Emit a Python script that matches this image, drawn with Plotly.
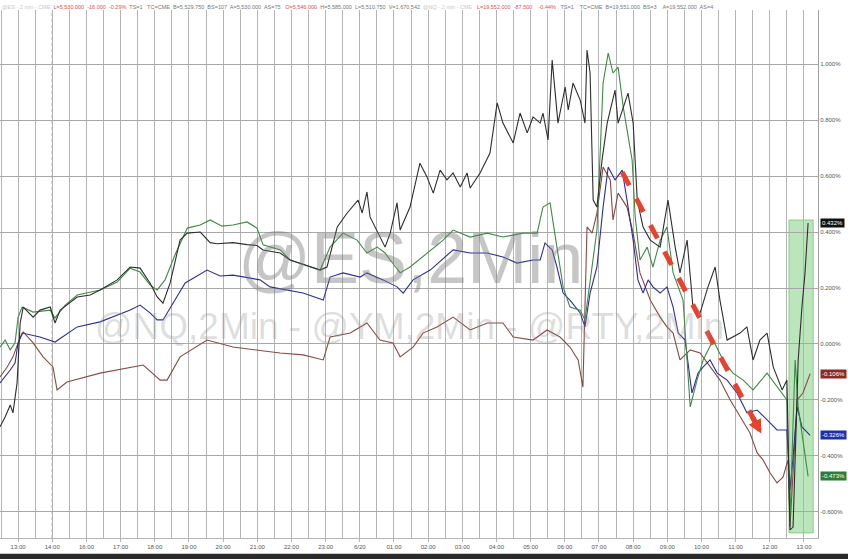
import plotly.graph_objects as go

# ---- tick labels (hour slots; 0 = first 13:00) ----
tick_pos = list(range(24))
tick_text = ["13:00", "14:00", "16:00", "17:00", "18:00", "19:00", "20:00", "21:00", "22:00",
             "23:00", "6/20", "01:00", "02:00", "03:00", "04:00", "05:00", "06:00", "07:00",
             "08:00", "09:00", "10:00", "11:00", "12:00", "13:00"]
y_ticks = [-0.6, -0.4, -0.2, 0.0, 0.2, 0.4, 0.6, 0.8, 1.0]

# ---- NQ (black) ----
nq_t = [-0.53, -0.38, -0.23, -0.15, -0.03, 0.06, 0.15, 0.44, 0.64, 0.94, 1.08, 1.23, 1.73, 2.11, 2.40,
        2.90, 3.28, 3.57, 3.86, 4.07, 4.24, 4.45, 4.74, 4.95, 5.33, 5.62, 5.82, 6.29, 6.70, 6.99, 7.17,
        7.67, 7.96, 8.84, 9.04, 9.34, 9.63, 9.95, 10.07, 10.21, 10.30, 10.59, 10.74, 10.89, 11.09,
        11.18, 11.47, 11.76, 11.97, 12.15, 12.35, 12.55, 12.73, 12.94, 13.14, 13.23, 13.52, 13.81,
        14.02, 14.19, 14.49, 14.69, 14.90, 15.07, 15.28, 15.36, 15.51, 15.63, 15.72, 15.80, 16.01,
        16.10, 16.24, 16.45, 16.59, 16.65, 16.74, 16.83, 16.94, 17.09, 17.24, 17.47, 17.56, 17.85,
        18.00, 18.12, 18.29, 18.50, 18.79, 19.02, 19.23, 19.37, 19.58, 19.75, 19.96, 20.19, 20.40,
        20.54, 20.75, 21.13, 21.33, 21.51, 21.71, 21.92, 22.10, 22.36, 22.50, 22.59, 22.68, 22.83,
        22.94, 23.03, 23.12]
nq_v = [-0.296, -0.261, -0.218, -0.246, -0.139, 0.075, 0.132, 0.096, 0.121, 0.132, 0.075, 0.121, 0.168,
        0.175, 0.193, 0.229, 0.275, 0.271, 0.218, 0.168, 0.146, 0.218, 0.371, 0.396, 0.400, 0.362,
        0.358, 0.362, 0.355, 0.352, 0.336, 0.325, 0.300, 0.264, 0.275, 0.418, 0.468, 0.514, 0.468,
        0.543, 0.454, 0.382, 0.346, 0.396, 0.504, 0.407, 0.489, 0.646, 0.596, 0.539, 0.621, 0.586,
        0.611, 0.561, 0.611, 0.557, 0.611, 0.682, 0.861, 0.789, 0.718, 0.825, 0.754, 0.811, 0.789,
        0.825, 0.729, 1.014, 0.907, 0.789, 0.918, 0.836, 0.932, 0.871, 0.789, 1.050, 0.968, 0.514,
        0.489, 0.657, 0.789, 0.907, 0.789, 0.896, 0.789, 0.514, 0.418, 0.371, 0.346, 0.514, 0.346,
        0.254, 0.371, 0.132, 0.111, 0.204, 0.275, 0.157, 0.014, 0.039, 0.061, -0.057, 0.014, 0.039,
        -0.082, -0.164, -0.129, -0.664, -0.654, -0.057, 0.132, 0.254, 0.432]

# ---- ES (green) ----
es_t = [-0.53, -0.38, -0.23, -0.09, 0.00, 0.12, 0.44, 0.94, 1.08, 1.38, 1.73, 2.40, 2.90, 3.28, 3.57,
        3.86, 4.07, 4.30, 4.59, 4.95, 5.33, 5.62, 5.97, 6.29, 6.70, 6.99, 7.17, 7.67, 7.96, 8.84, 9.13,
        9.51, 9.92, 10.21, 10.51, 10.74, 10.89, 11.18, 11.47, 11.97, 12.44, 12.73, 13.23, 13.73, 14.19,
        14.78, 15.19, 15.36, 15.57, 15.66, 15.77, 15.95, 16.15, 16.45, 16.59, 16.74, 16.94, 17.12,
        17.27, 17.41, 17.56, 17.71, 17.85, 17.97, 18.06, 18.20, 18.41, 18.58, 18.79, 18.99, 19.17,
        19.46, 19.67, 19.87, 20.05, 20.34, 20.63, 20.92, 21.22, 21.51, 21.92, 22.21, 22.50, 22.59,
        22.74, 22.83, 23.03, 23.12]
es_v = [-0.011, 0.014, -0.021, 0.004, 0.096, 0.132, 0.114, 0.121, 0.093, 0.139, 0.175, 0.193, 0.221,
        0.271, 0.257, 0.211, 0.193, 0.229, 0.318, 0.414, 0.425, 0.443, 0.421, 0.425, 0.436, 0.414,
        0.354, 0.336, 0.300, 0.264, 0.346, 0.396, 0.371, 0.325, 0.346, 0.325, 0.300, 0.254, 0.275,
        0.325, 0.371, 0.407, 0.382, 0.396, 0.382, 0.396, 0.396, 0.489, 0.504, 0.432, 0.346, 0.204,
        0.132, 0.121, 0.086, 0.229, 0.407, 0.932, 1.039, 0.968, 0.989, 0.846, 0.739, 0.657, 0.454,
        0.300, 0.346, 0.275, 0.371, 0.418, 0.254, 0.157, -0.225, -0.129, -0.057, 0.014, -0.057,
        -0.104, -0.129, -0.164, -0.104, -0.154, -0.200, -0.629, -0.057, -0.225, -0.389, -0.473]

# ---- YM (blue) ----
ym_t = [-0.53, -0.38, -0.23, -0.09, 0.00, 0.12, 0.64, 1.08, 1.73, 2.40, 3.28, 3.57, 3.86, 4.07, 4.24,
        4.59, 4.89, 5.53, 5.91, 6.29, 7.08, 7.37, 8.34, 8.93, 9.13, 9.51, 10.01, 10.21, 10.68, 11.09,
        11.27, 11.56, 12.06, 12.73, 13.23, 13.73, 14.19, 14.60, 15.07, 15.28, 15.42, 15.63, 15.77,
        15.95, 16.15, 16.45, 16.59, 16.74, 16.94, 17.12, 17.27, 17.47, 17.68, 17.82, 18.00, 18.14,
        18.29, 18.44, 18.58, 18.79, 18.99, 19.17, 19.32, 19.52, 19.72, 19.90, 20.05, 20.25, 20.46,
        20.75, 21.04, 21.33, 21.63, 21.92, 22.21, 22.50, 22.59, 22.68, 22.80, 22.94, 23.18]
ym_v = [-0.139, -0.118, -0.093, -0.068, 0.004, 0.039, 0.025, 0.007, 0.061, 0.079, 0.121, 0.139, 0.111,
        0.086, 0.086, 0.157, 0.218, 0.264, 0.243, 0.246, 0.229, 0.204, 0.182, 0.157, 0.239, 0.254,
        0.239, 0.254, 0.229, 0.204, 0.182, 0.229, 0.264, 0.336, 0.325, 0.325, 0.311, 0.289, 0.300,
        0.300, 0.361, 0.336, 0.275, 0.182, 0.157, 0.111, 0.061, 0.182, 0.275, 0.489, 0.632, 0.586,
        0.621, 0.514, 0.371, 0.229, 0.182, 0.229, 0.204, 0.182, 0.204, 0.132, 0.039, 0.014, -0.175,
        -0.104, -0.082, -0.057, -0.104, -0.129, -0.175, -0.246, -0.236, -0.271, -0.307, -0.307,
        -0.521, -0.404, -0.225, -0.296, -0.326]

# ---- RTY (brown) ----
rty_t = [-0.53, -0.32, -0.15, 0.00, 0.15, 0.44, 0.73, 1.02, 1.14, 1.43, 2.40, 3.37, 3.66, 4.16, 4.36,
         4.74, 5.53, 6.29, 6.88, 7.67, 8.34, 8.93, 9.13, 9.72, 10.21, 10.59, 10.97, 11.18, 11.56,
         11.85, 12.26, 12.73, 13.23, 13.73, 14.19, 14.49, 15.07, 15.48, 15.86, 16.15, 16.39, 16.53,
         16.65, 16.80, 16.94, 17.12, 17.33, 17.41, 17.56, 17.82, 18.00, 18.20, 18.50, 18.79, 18.99,
         19.17, 19.37, 19.67, 19.96, 20.25, 20.54, 20.84, 21.13, 21.42, 21.63, 21.80, 22.01, 22.21,
         22.39, 22.53, 22.59, 22.80, 22.97, 23.18]
rty_v = [-0.118, -0.082, -0.046, 0.004, 0.043, 0.004, -0.046, -0.082, -0.164, -0.136, -0.104, -0.082,
         -0.075, -0.129, -0.129, -0.046, 0.014, -0.011, -0.021, -0.032, -0.039, -0.057, 0.025, 0.039,
         0.075, 0.014, 0.004, -0.046, -0.011, 0.039, 0.061, 0.096, 0.050, 0.075, 0.075, 0.025, 0.014,
         0.050, 0.025, -0.011, -0.057, -0.154, 0.418, 0.396, 0.468, 0.632, 0.586, 0.443, 0.539, 0.489,
         0.396, 0.254, 0.157, 0.096, 0.061, 0.039, -0.057, -0.021, -0.032, -0.082, -0.129, -0.200,
         -0.261, -0.318, -0.389, -0.414, -0.461, -0.496, -0.475, -0.414, -0.654, -0.200, -0.175, -0.106]

last_labels = [("0.432%", 0.432, "#111111"), ("-0.106%", -0.106, "#8e2a22"),
               ("-0.326%", -0.326, "#1f2fa8"), ("-0.473%", -0.473, "#2e7d32")]

# decorations (data units)
arrow_start = (17.68, 0.614)
arrow_end = (21.75, -0.320)
shade_x = (22.56, 23.27)
shade_y = (-0.675, 0.443)
session_line = 1.0

fig = go.Figure()
series = [
    (rty_t, rty_v, "#8a4a44", "@RTY"),
    (ym_t, ym_v, "#2b2f9a", "@YM"),
    (es_t, es_v, "#3f8a45", "@ES"),
    (nq_t, nq_v, "#2e2e2e", "@NQ"),
]
for t, v, c, n in series:
    fig.add_trace(go.Scatter(x=t, y=v, mode="lines", name=n,
                             line=dict(color=c, width=1.1), showlegend=False, hoverinfo="skip"))

shapes = []
shapes.append(dict(type="rect", xref="x", yref="y", x0=shade_x[0], x1=shade_x[1],
                   y0=shade_y[0], y1=shade_y[1], fillcolor="rgba(120,205,120,0.5)",
                   line=dict(color="rgba(90,180,90,0.6)", width=1), layer="below"))
shapes.append(dict(type="line", xref="x", yref="paper", x0=session_line, x1=session_line,
                   y0=0, y1=1, line=dict(color="#555555", width=1, dash="dot"), layer="below"))
shapes.append(dict(type="line", xref="x", yref="y", x0=arrow_start[0], y0=arrow_start[1],
                   x1=arrow_start[0] + (arrow_end[0] - arrow_start[0]) * 0.96,
                   y1=arrow_start[1] + (arrow_end[1] - arrow_start[1]) * 0.96,
                   line=dict(color="#e8412c", width=5, dash="dash")))
shapes.append(dict(type="rect", xref="paper", yref="paper", x0=-0.01, x1=1.05, y0=-0.09, y1=-0.03,
                   fillcolor="#2a2a2a", line=dict(width=0)))

annotations = []
annotations.append(dict(x=arrow_end[0], y=arrow_end[1], xref="x", yref="y",
                        ax=arrow_start[0] + (arrow_end[0] - arrow_start[0]) * 0.93,
                        ay=arrow_start[1] + (arrow_end[1] - arrow_start[1]) * 0.93,
                        axref="x", ayref="y", showarrow=True, arrowhead=2, arrowsize=0.55,
                        arrowwidth=5, arrowcolor="#e8412c", text=""))
annotations.append(dict(x=0.502, y=0.53, xref="paper", yref="paper", text="@ES,2Min",
                        showarrow=False, font=dict(family="Liberation Sans", size=72,
                                                   color="rgba(120,120,120,0.42)")))
annotations.append(dict(x=0.50, y=0.40, xref="paper", yref="paper",
                        text="@NQ,2Min - @YM,2Min - @RTY,2Min",
                        showarrow=False, font=dict(family="Liberation Sans", size=37,
                                                   color="rgba(150,150,150,0.33)")))
for txt, val, col in last_labels:
    annotations.append(dict(x=1.0, y=val, xref="paper", yref="y", xanchor="left", xshift=2,
                            text=txt, showarrow=False, bgcolor=col, borderpad=1,
                            font=dict(family="Liberation Sans", size=6, color="white")))
red = "#d9534f"
hdr1 = ("<span style='color:#c8c8c8'>@ES - 2 min - CME</span>  "
        f"<span style='color:{red}'>L=5,530.000  -16.000  -0.29%</span>  TS=1   TC=CME  B=5,529.750  BS=107  "
        f"A=5,530.000  AS=75   <span style='color:{red}'>O=5,546.000</span>  H=5,585.000  L=5,510.750  V=1,670,542")
hdr2 = ("<span style='color:#c8c8c8'>@NQ - 2 min - CME</span>   "
        f"<span style='color:{red}'>L=19,552.000  -87.500    -0.44%</span>   TS=1    TC=CME  B=19,551.000  BS=3    "
        "A=19,552.000  AS=4")
annotations.append(dict(x=0.0, y=1.0, xref="paper", yref="paper", xanchor="left", yanchor="bottom",
                        text=hdr1, showarrow=False, yshift=-2,
                        font=dict(family="Liberation Sans", size=5.5, color="#777777")))
annotations.append(dict(x=0.515, y=1.0, xref="paper", yref="paper", xanchor="left", yanchor="bottom",
                        text=hdr2, showarrow=False, yshift=-2,
                        font=dict(family="Liberation Sans", size=5.5, color="#777777")))

fig.update_layout(
    width=848, height=559,
    margin=dict(l=0, r=30, t=10, b=21),
    paper_bgcolor="white", plot_bgcolor="white",
    shapes=shapes, annotations=annotations,
    xaxis=dict(range=[-0.53, 23.41], tickvals=tick_pos, ticktext=tick_text,
               showgrid=True, gridcolor="#b4b4b4", gridwidth=1,
               minor=dict(dtick=0.5, tick0=0.5, showgrid=True, gridcolor="#b4b4b4", gridwidth=1),
               tickfont=dict(family="Liberation Sans", size=6, color="#555555"),
               ticks="outside", ticklen=3, tickcolor="#b4b4b4",
               showline=True, linecolor="#b4b4b4", zeroline=False, fixedrange=True),
    yaxis=dict(range=[-0.693, 1.193], side="right", tickvals=y_ticks,
               ticktext=[f"{v:.3f}%" for v in y_ticks],
               showgrid=True, gridcolor="#a8a8a8", gridwidth=1,
               tickfont=dict(family="Liberation Sans", size=6, color="#555555"),
               showline=True, linecolor="#a0a0a0", zeroline=False, ticks="", fixedrange=True),
)

fig.write_html("out.html", config={"displayModeBar": False},
               post_script="document.body.style.margin='0';document.body.style.padding='0';"
                           "document.body.style.overflow='hidden';")
